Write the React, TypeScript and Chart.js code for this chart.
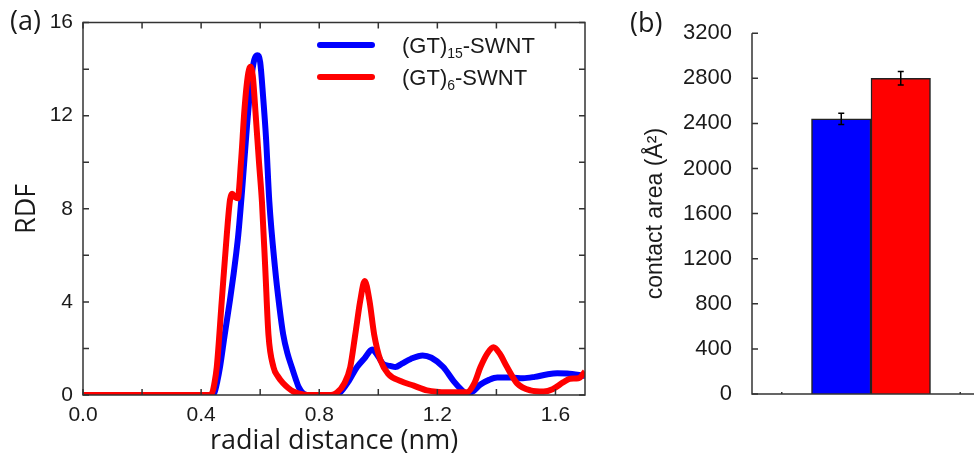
import React, { useEffect, useRef } from 'react';
import { Chart, registerables } from 'chart.js';

Chart.register(...registerables);

// ---------- data ----------
const BLUE_LABEL = ['(GT)', '15', '-SWNT'];
const RED_LABEL = ['(GT)', '6', '-SWNT'];

const BLUE_X = [0, 0.2, 0.43, 0.445, 0.455, 0.464, 0.48, 0.498, 0.51, 0.518, 0.526, 0.54, 0.555, 0.57, 0.58, 0.59, 0.6, 0.61, 0.62, 0.631, 0.65, 0.665, 0.678, 0.692, 0.707, 0.72, 0.73, 0.745, 0.76, 0.85, 0.87, 0.9, 0.928, 0.955, 0.979, 0.995, 1.017, 1.04, 1.058, 1.08, 1.11, 1.15, 1.18, 1.22, 1.255, 1.284, 1.3, 1.32, 1.346, 1.375, 1.403, 1.45, 1.49, 1.53, 1.57, 1.606, 1.64, 1.7];
const BLUE_Y = [0, 0, 0, 0.1, 0.6, 1.2, 2.6, 4.1, 5.2, 6.0, 6.9, 9.0, 11.5, 13.6, 14.4, 14.6, 14.3, 12.8, 11.0, 8.3, 5.5, 3.8, 2.6, 1.8, 1.2, 0.7, 0.35, 0.08, 0, 0, 0.1, 0.6, 1.2, 1.6, 1.95, 1.75, 1.33, 1.25, 1.2, 1.35, 1.55, 1.7, 1.6, 1.2, 0.6, 0.2, 0.05, 0.15, 0.45, 0.65, 0.75, 0.75, 0.72, 0.78, 0.88, 0.93, 0.92, 0.82];

const RED_X = [0, 0.42, 0.436, 0.445, 0.453, 0.47, 0.487, 0.498, 0.505, 0.515, 0.524, 0.535, 0.547, 0.558, 0.567, 0.575, 0.585, 0.596, 0.606, 0.617, 0.628, 0.645, 0.66, 0.678, 0.695, 0.712, 0.745, 0.76, 0.84, 0.86, 0.885, 0.905, 0.922, 0.939, 0.954, 0.97, 0.986, 1.007, 1.034, 1.075, 1.12, 1.165, 1.233, 1.3, 1.325, 1.346, 1.37, 1.39, 1.41, 1.436, 1.47, 1.515, 1.56, 1.59, 1.627, 1.65, 1.678, 1.7];
const RED_Y = [0, 0, 0.05, 0.5, 1.2, 4.06, 6.9, 8.4, 8.65, 8.5, 8.45, 10.0, 12.3, 13.7, 14.1, 13.7, 12.0, 10.0, 8.3, 5.5, 2.6, 1.2, 0.8, 0.5, 0.3, 0.15, 0.02, 0, 0, 0.1, 0.5, 1.2, 2.6, 4.06, 4.9, 4.06, 2.6, 1.5, 0.9, 0.6, 0.4, 0.2, 0.12, 0.12, 0.5, 1.2, 1.8, 2.05, 1.8, 1.2, 0.5, 0.2, 0.15, 0.25, 0.55, 0.7, 0.72, 1.0];

const RDF_X_MIN = 0;
const RDF_X_MAX = 1.7;
const RDF_Y_MIN = 0;
const RDF_Y_MAX = 16;

const BAR_CATEGORIES = ['', '(GT)15-SWNT', '(GT)6-SWNT', ''];
const BAR_VALUES = [null, 2440, 2800, null];
const BAR_ERRORS = [null, 50, 60, null];
const AREA_Y_MIN = 0;
const AREA_Y_MAX = 3200;

// ---------- style ----------
const BLUE = '#0000ff';
const RED = '#ff0000';
const AXIS = '#333333';
const TEXT = '#1a1a1a';
const SANS = "'Liberation Sans', Arial, sans-serif";
const OPEN = "'Open Sans', sans-serif";

// ---------- plugins ----------
const frameTicks = {
  id: 'frameTicks',
  afterDatasetsDraw(chart: any, _args: any, opts: any) {
    const { ctx, chartArea: a, scales } = chart;
    ctx.save();
    ctx.strokeStyle = AXIS;
    ctx.lineWidth = 1.5;
    ctx.beginPath();
    if (opts.box) {
      ctx.rect(a.left, a.top, a.right - a.left, a.bottom - a.top);
    } else {
      ctx.moveTo(a.left, a.top);
      ctx.lineTo(a.left, a.bottom);
      ctx.lineTo(a.right + 20, a.bottom);
    }
    ctx.stroke();
    ctx.beginPath();
    const xs = scales.x;
    const ys = scales.y;
    (opts.xTicks || []).forEach((v: number) => {
      const px = xs.getPixelForValue(v);
      ctx.moveTo(px, a.bottom);
      ctx.lineTo(px, a.bottom - opts.xLen);
      if (opts.box) {
        ctx.moveTo(px, a.top);
        ctx.lineTo(px, a.top + opts.xLen);
      }
    });
    (opts.yTicks || []).forEach((v: number) => {
      const py = ys.getPixelForValue(v);
      ctx.moveTo(a.left, py);
      ctx.lineTo(a.left + opts.yLen, py);
      if (opts.box) {
        ctx.moveTo(a.right, py);
        ctx.lineTo(a.right - opts.yLen, py);
      }
    });
    ctx.stroke();
    ctx.restore();
  },
};

const panelLabel = {
  id: 'panelLabel',
  afterDraw(chart: any, _args: any, opts: any) {
    const { ctx } = chart;
    ctx.save();
    ctx.font = `27px ${OPEN}`;
    ctx.fillStyle = TEXT;
    ctx.textAlign = 'left';
    ctx.textBaseline = 'middle';
    ctx.fillText(opts.text, opts.x, opts.y);
    ctx.restore();
  },
};

const subLegend = {
  id: 'subLegend',
  afterDraw(chart: any, _args: any, opts: any) {
    const { ctx } = chart;
    const items = opts.items as { parts: string[]; color: string }[];
    ctx.save();
    items.forEach((it, i) => {
      const y = opts.y + i * opts.gap;
      ctx.strokeStyle = it.color;
      ctx.lineWidth = 6;
      ctx.lineCap = 'round';
      ctx.beginPath();
      ctx.moveTo(opts.x, y);
      ctx.lineTo(opts.x + opts.len, y);
      ctx.stroke();
      ctx.fillStyle = TEXT;
      ctx.textBaseline = 'alphabetic';
      ctx.textAlign = 'left';
      let tx = opts.textX;
      const base = y + 8;
      ctx.font = `22px ${SANS}`;
      ctx.fillText(it.parts[0], tx, base);
      tx += ctx.measureText(it.parts[0]).width;
      ctx.font = `14px ${SANS}`;
      ctx.fillText(it.parts[1], tx, base + 5);
      tx += ctx.measureText(it.parts[1]).width;
      ctx.font = `22px ${SANS}`;
      ctx.fillText(it.parts[2], tx, base);
    });
    ctx.restore();
  },
};

const errorBars = {
  id: 'errorBars',
  afterDatasetsDraw(chart: any, _args: any, opts: any) {
    const { ctx, scales } = chart;
    const meta = chart.getDatasetMeta(0);
    const errs = opts.errors as (number | null)[];
    const vals = chart.data.datasets[0].data as (number | null)[];
    ctx.save();
    ctx.strokeStyle = '#000';
    ctx.lineWidth = 1.5;
    ctx.beginPath();
    meta.data.forEach((el: any, i: number) => {
      const v = vals[i];
      const e = errs[i];
      if (v == null || e == null) return;
      const top = scales.y.getPixelForValue(v + e);
      const bot = scales.y.getPixelForValue(v - e);
      ctx.moveTo(el.x, top);
      ctx.lineTo(el.x, bot);
      ctx.moveTo(el.x - 3, top);
      ctx.lineTo(el.x + 3, top);
      ctx.moveTo(el.x - 3, bot);
      ctx.lineTo(el.x + 3, bot);
    });
    ctx.stroke();
    ctx.restore();
  },
};

function range(a: number, b: number, step: number) {
  const out: number[] = [];
  for (let v = a; v <= b + 1e-9; v += step) out.push(Math.round(v * 1000) / 1000);
  return out;
}

export default function App() {
  const leftRef = useRef<HTMLCanvasElement>(null);
  const rightRef = useRef<HTMLCanvasElement>(null);

  useEffect(() => {
    const left = new Chart(leftRef.current as HTMLCanvasElement, {
      type: 'line',
      data: {
        datasets: [
          {
            label: BLUE_LABEL.join(''),
            data: BLUE_X.map((x, i) => ({ x, y: BLUE_Y[i] })),
            borderColor: BLUE,
            borderWidth: 6,
            pointRadius: 0,
            cubicInterpolationMode: 'monotone',
            fill: false,
            order: 1,
          },
          {
            label: RED_LABEL.join(''),
            data: RED_X.map((x, i) => ({ x, y: RED_Y[i] })),
            borderColor: RED,
            borderWidth: 6,
            pointRadius: 0,
            cubicInterpolationMode: 'monotone',
            fill: false,
            order: 0,
          },
        ],
      },
      options: {
        animation: false,
        responsive: false,
        events: [],
        layout: { padding: { top: 21, right: 15, left: 0, bottom: 0 } },
        plugins: {
          legend: { display: false },
          tooltip: { enabled: false },
          frameTicks: { box: true, xTicks: range(RDF_X_MIN, 1.6, 0.2), yTicks: range(RDF_Y_MIN, RDF_Y_MAX, 2), xLen: 6, yLen: 6 },
          panelLabel: { text: '(a)', x: 10, y: 22 },
          subLegend: {
            x: 320,
            len: 52,
            textX: 402,
            y: 45,
            gap: 32,
            items: [
              { parts: BLUE_LABEL, color: BLUE },
              { parts: RED_LABEL, color: RED },
            ],
          },
        } as any,
        scales: {
          x: {
            type: 'linear',
            min: RDF_X_MIN,
            max: RDF_X_MAX,
            border: { display: false },
            grid: { display: false, drawTicks: false },
            ticks: {
              stepSize: 0.4,
              includeBounds: false,
              padding: 8,
              color: TEXT,
              font: { family: SANS, size: 21 },
              maxRotation: 0,
              callback: (v: any) => Number(v).toFixed(1),
            },
            title: {
              display: true,
              text: 'radial distance (nm)',
              color: TEXT,
              font: { family: OPEN, size: 27 },
              padding: { top: 0, bottom: 1 },
            },
            afterFit: (s: any) => {
              s.height = 64;
            },
          },
          y: {
            type: 'linear',
            min: RDF_Y_MIN,
            max: RDF_Y_MAX,
            border: { display: false },
            grid: { display: false, drawTicks: false },
            ticks: {
              stepSize: 4,
              padding: 10,
              color: TEXT,
              font: { family: SANS, size: 21 },
            },
            title: {
              display: true,
              text: 'RDF',
              color: TEXT,
              font: { family: OPEN, size: 27 },
              padding: { top: 11, bottom: 0 },
            },
            afterFit: (s: any) => {
              s.width = 83;
            },
          },
        },
      },
      plugins: [frameTicks, panelLabel, subLegend],
    } as any);

    const right = new Chart(rightRef.current as HTMLCanvasElement, {
      type: 'bar',
      data: {
        labels: BAR_CATEGORIES,
        datasets: [
          {
            label: 'contact area',
            data: BAR_VALUES,
            backgroundColor: BAR_CATEGORIES.map((_, i) => (i < 2 ? BLUE : RED)),
            borderColor: '#222222',
            borderWidth: 1.5,
            borderSkipped: 'bottom',
            barPercentage: 1,
            categoryPercentage: 1,
          },
        ],
      },
      options: {
        animation: false,
        responsive: false,
        events: [],
        layout: { padding: { top: 21, right: 10, left: 0, bottom: 0 } },
        plugins: {
          legend: { display: false },
          tooltip: { enabled: false },
          frameTicks: { box: false, xTicks: [0, 3], yTicks: range(AREA_Y_MIN, AREA_Y_MAX, 400), xLen: 2, yLen: 6 },
          panelLabel: { text: '(b)', x: 30, y: 24 },
          errorBars: { errors: BAR_ERRORS },
        } as any,
        scales: {
          x: {
            type: 'category',
            offset: true,
            border: { display: false },
            grid: { display: false, drawTicks: false },
            ticks: { display: false },
            afterFit: (s: any) => {
              s.height = 65;
            },
          },
          y: {
            type: 'linear',
            min: AREA_Y_MIN,
            max: AREA_Y_MAX,
            border: { display: false },
            grid: { display: false, drawTicks: false },
            ticks: {
              stepSize: 400,
              padding: 20,
              color: TEXT,
              font: { family: SANS, size: 22 },
              callback: (v: any) => String(v),
            },
            title: {
              display: true,
              text: 'contact area (Å²)',
              color: TEXT,
              font: { family: SANS, size: 23 },
              padding: { top: 42, bottom: 0 },
            },
            afterFit: (s: any) => {
              s.width = 152;
            },
          },
        },
      },
      plugins: [frameTicks, panelLabel, errorBars],
    } as any);

    return () => {
      left.destroy();
      right.destroy();
    };
  }, []);

  return (
    <div
      style={{
        position: 'fixed',
        left: 0,
        top: 0,
        width: 974,
        height: 459,
        overflow: 'hidden',
        background: '#ffffff',
      }}
    >
      <canvas
        ref={leftRef}
        width={600}
        height={459}
        style={{ position: 'absolute', left: 0, top: 0, width: 600, height: 459 }}
      />
      <canvas
        ref={rightRef}
        width={400}
        height={459}
        style={{ position: 'absolute', left: 600, top: 0, width: 400, height: 459 }}
      />
    </div>
  );
}
